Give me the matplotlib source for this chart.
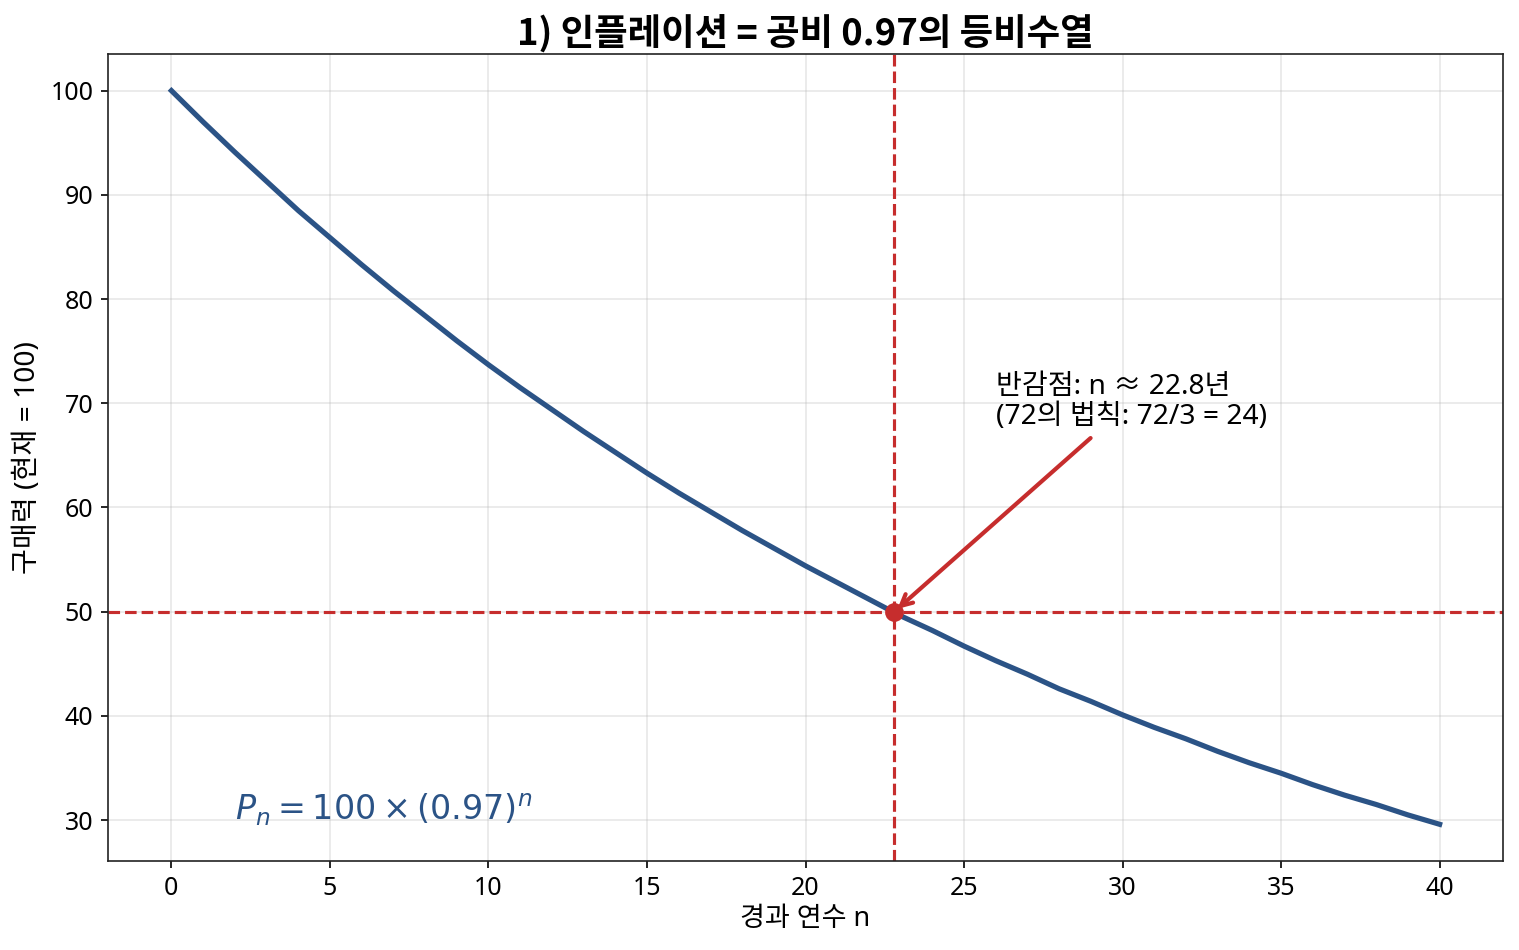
import numpy as np
import matplotlib
matplotlib.use("Agg")
import matplotlib.pyplot as plt

plt.rcParams['font.family'] = ['Noto Sans', 'Noto Sans CJK KR', 'DejaVu Sans']
plt.rcParams['axes.unicode_minus'] = False

# purchasing power, one point per year
years = list(range(0, 41))
power = [100.0, 97.0, 94.1, 91.3, 88.5, 85.9, 83.3, 80.8, 78.4, 76.0,
         73.7, 71.5, 69.4, 67.3, 65.3, 63.3, 61.4, 59.6, 57.8, 56.1,
         54.4, 52.8, 51.2, 49.6, 48.2, 46.7, 45.3, 44.0, 42.6, 41.4,
         40.1, 38.9, 37.8, 36.6, 35.5, 34.5, 33.4, 32.4, 31.5, 30.5,
         29.6]
half_n = 22.8
half_val = 50

BLUE = '#2b5386'
RED = '#c62d2d'

fig, ax = plt.subplots(figsize=(1519/150, 950/150), dpi=150)
fig.subplots_adjust(left=0.0711, right=0.9895, top=0.9432, bottom=0.0937)

ax.plot(years, power, color=BLUE, lw=2.5, solid_joinstyle='round')
ax.axhline(half_val, color=RED, ls='--', lw=1.5)
ax.axvline(half_n, color=RED, ls='--', lw=1.5)
ax.plot(half_n, half_val, 'o', color=RED, ms=8)

ax.annotate("반감점: n ≈ 22.8년\n(72의 법칙: 72/3 = 24)",
            xy=(half_n, half_val), xytext=(26, 68), fontsize=13.5,
            linespacing=1.1,
            arrowprops=dict(arrowstyle='->', color=RED, lw=2))

ax.text(2, 30, r"$P_n = 100 \times (0.97)^n$", fontsize=16, color=BLUE)

ax.set_title("1) 인플레이션 = 공비 0.97의 등비수열", fontsize=17.5,
             fontweight='bold', family=['Noto Sans CJK KR', 'DejaVu Sans'],
             pad=4)
ax.set_xlabel("경과 연수 n", fontsize=13, labelpad=2)
ax.set_ylabel("구매력 (현재 = 100)", fontsize=13.5)
ax.tick_params(labelsize=12)
for s in ax.spines.values():
    s.set_color('#222222')
ax.grid(True, alpha=0.3)

plt.savefig("out.png", dpi=150)
